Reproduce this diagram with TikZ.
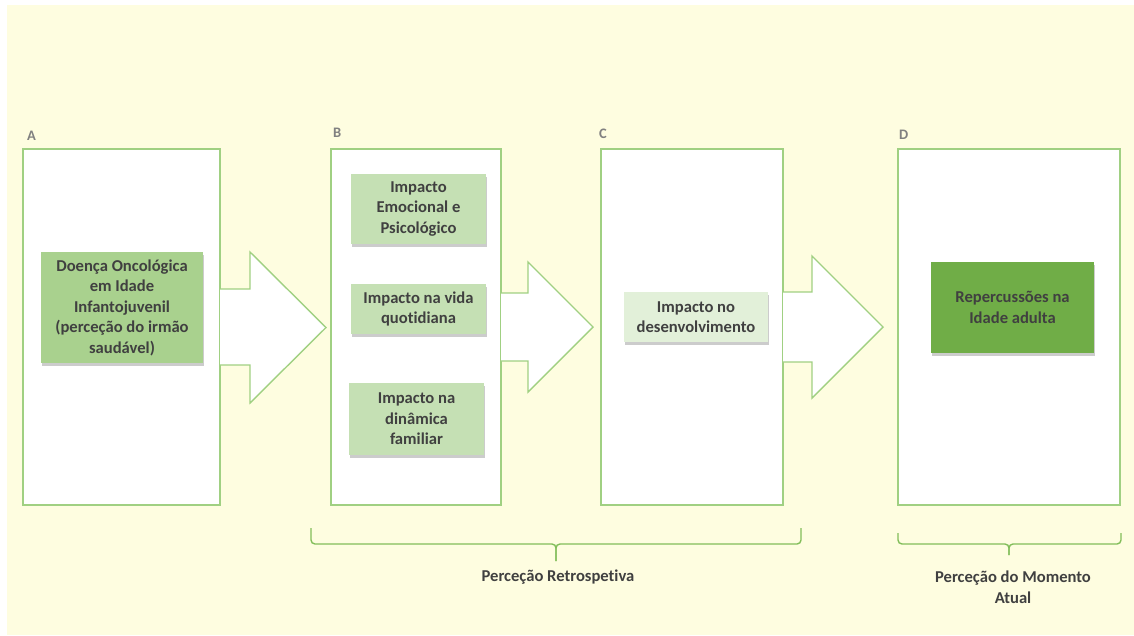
\documentclass[tikz,border=0pt]{standalone}
\usepackage{fontspec}
\setmainfont{Carlito}[Ligatures={NoCommon}]
\usetikzlibrary{shadows,calc}
\definecolor{bgy}{RGB}{254,253,224}
\definecolor{edge}{RGB}{160,208,130}
\definecolor{brc}{RGB}{130,190,90}
\definecolor{txt}{RGB}{64,64,64}
\definecolor{lab}{RGB}{128,128,128}
\definecolor{gA}{RGB}{169,209,142}
\definecolor{gB}{RGB}{197,224,180}
\definecolor{gC}{RGB}{226,240,217}
\definecolor{gD}{RGB}{112,173,71}
\tikzset{
  outerbox/.style={draw=edge, line width=1.4pt, fill=white, inner sep=0pt, outer sep=0pt},
  innerbox/.style={inner sep=0pt, outer sep=0pt, align=center, text=txt,
    font=\fontsize{16.6}{20.5}\selectfont\bfseries,
    drop shadow={opacity=0.4, shadow xshift=1pt, shadow yshift=-3pt}},
  letter/.style={text=lab, font=\fontsize{14.5}{16}\selectfont\bfseries, anchor=west, inner sep=0pt},
  blockarrow/.style={draw=edge, line width=1.4pt, line join=miter},
  bracepath/.style={draw=brc, line width=1.4pt, rounded corners=4pt},
  caption/.style={text=txt, align=center, font=\fontsize{16.6}{20.5}\selectfont\bfseries, inner sep=0pt}
}
\begin{document}
\begin{tikzpicture}[x=1pt,y=-1pt]
\useasboundingbox (0,0) rectangle (1134,635);
\fill[bgy] (7,5) rectangle (1134,635);

% outer boxes
\node[outerbox, minimum width=197, minimum height=356] (A) at (121.5,327) {};
\node[outerbox, minimum width=170, minimum height=356] (B) at (416,327) {};
\node[outerbox, minimum width=182, minimum height=356] (C) at (692,327) {};
\node[outerbox, minimum width=222, minimum height=356] (D) at (1009,327) {};

% letters
\node[letter] (lA) at (27,136) {A};
\node[letter] (lB) at (333,133) {B};
\node[letter] (lC) at (599,134) {C};
\node[letter] (lD) at (899,135) {D};

% block arrows
\fill[white] (220,289) -- (250,289) -- (250,252) -- (326,327.5) -- (250,403) -- (250,365) -- (220,365) -- cycle;
\draw[blockarrow] (220,289) -- (250,289) -- (250,252) -- (326,327.5) -- (250,403) -- (250,365) -- (220,365);

\fill[white] (501,293) -- (528,293) -- (528,262) -- (593,327) -- (528,392) -- (528,361) -- (501,361) -- cycle;
\draw[blockarrow] (501,293) -- (528,293) -- (528,262) -- (593,327) -- (528,392) -- (528,361) -- (501,361);

\fill[white] (783,292) -- (812,292) -- (812,256) -- (883,327) -- (812,398) -- (812,362) -- (783,362) -- cycle;
\draw[blockarrow] (783,292) -- (812,292) -- (812,256) -- (883,327) -- (812,398) -- (812,362) -- (783,362);

% inner boxes
\node[innerbox, fill=gA, minimum width=162, minimum height=111] (a1) at (122,307.5)
  {Doença Oncológica\\em Idade\\Infantojuvenil\\(perceção do irmão\\saudável)};
\node[innerbox, fill=gB, minimum width=135, minimum height=70] (b1) at (418.5,209)
  {Impacto\\Emocional e\\Psicológico};
\node[innerbox, fill=gB, minimum width=135, minimum height=50] (b2) at (418.5,309)
  {Impacto na vida\\quotidiana};
\node[innerbox, fill=gB, minimum width=135, minimum height=72] (b3) at (416.5,419)
  {Impacto na\\dinâmica\\familiar};
\node[innerbox, fill=gC, minimum width=144, minimum height=50] (c1) at (696,317)
  {Impacto no\\desenvolvimento};
\node[innerbox, fill=gD, minimum width=163, minimum height=91] (d1) at (1012.5,307.5)
  {Repercussões na\\Idade adulta};

% braces
\coordinate (br1l) at (311,528);
\coordinate (br1r) at (801,528);
\coordinate (br1m) at (556,561);
\draw[bracepath] (br1l) -- (311,544) -- (556,544) -- (br1m);
\draw[bracepath] (br1r) -- (801,544) -- (556,544) -- (br1m);
\node[caption] (capB) at (558,577) {Perceção Retrospetiva};

\coordinate (br2l) at (898,533);
\coordinate (br2r) at (1121,533);
\coordinate (br2m) at (1009,555);
\draw[bracepath] (br2l) -- (898,544) -- (1009,544) -- (br2m);
\draw[bracepath] (br2r) -- (1121,544) -- (1009,544) -- (br2m);
\node[caption] (capD) at (1013,587) {Perceção do Momento\\Atual};
\end{tikzpicture}
\end{document}
